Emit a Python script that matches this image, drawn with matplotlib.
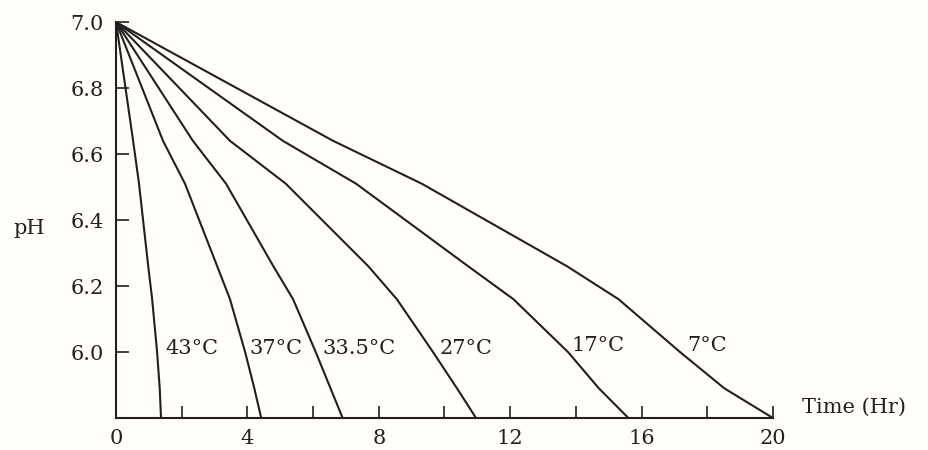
import matplotlib
matplotlib.use("Agg")
import matplotlib.pyplot as plt

# pH levels at which the curves were read (shared by all curves)
ph_levels = [7.0, 6.64, 6.51, 6.26, 6.16, 6.0, 5.89, 5.8]

# time (hr) needed to reach each pH level, one list per temperature
curves = {
    "43°C": [0, 0.52, 0.70, 0.98, 1.10, 1.25, 1.33, 1.37],
    "37°C": [0, 1.43, 2.10, 3.08, 3.47, 3.93, 4.21, 4.42],
    "33.5°C": [0, 2.34, 3.35, 4.79, 5.39, 6.08, 6.53, 6.90],
    "27°C": [0, 3.47, 5.17, 7.68, 8.55, 9.65, 10.38, 10.96],
    "17°C": [0, 5.08, 7.31, 10.72, 12.10, 13.76, 14.70, 15.60],
    "7°C": [0, 6.61, 9.31, 13.73, 15.30, 17.17, 18.52, 20.0],
}

# where each curve label sits (time, pH)
label_pos = {
    "43°C": (1.49, 6.012),
    "37°C": (4.05, 6.012),
    "33.5°C": (6.27, 6.012),
    "27°C": (9.86, 6.012),
    "17°C": (13.88, 6.02),
    "7°C": (17.38, 6.02),
}

x_ticks = [2, 4, 6, 8, 10, 12, 14, 16, 18, 20]
x_labels = [0, 4, 8, 12, 16, 20]
y_ticks = [6.0, 6.2, 6.4, 6.6, 6.8, 7.0]

ink = "#231f20"
paper = "#fffef8"
plt.rcParams["font.family"] = ["DejaVu Serif"]

fig = plt.figure(figsize=(9.29, 4.5), dpi=100, facecolor=paper)
ax = fig.add_axes([0.1249, 0.0711, 0.832 - 0.1249, 0.951 - 0.0711])
ax.set_facecolor(paper)

for name, times in curves.items():
    ax.plot(times, ph_levels, color=ink, linewidth=1.5,
            solid_joinstyle="round", solid_capstyle="round", clip_on=False)
    lx, ly = label_pos[name]
    ax.text(lx, ly, name, fontsize=15, color=ink, ha="left", va="center")

ax.set_xlim(0, 20)
ax.set_ylim(5.8, 7.0)

for side in ["top", "right"]:
    ax.spines[side].set_visible(False)
for side in ["left", "bottom"]:
    ax.spines[side].set_color(ink)
    ax.spines[side].set_linewidth(1.5)

# x: tick marks every 2 hr, labels every 4 hr (drawn as text)
ax.set_xticks(x_ticks)
ax.set_xticklabels([])
ax.tick_params(axis="x", direction="in", length=9, width=1.2, color=ink)
for v in x_labels:
    ax.annotate(str(v), xy=(v, 5.8), xytext=(0, -18.5), textcoords="offset points",
                ha="center", va="baseline", fontsize=15, color=ink, annotation_clip=False)

ax.set_yticks(y_ticks)
ax.set_yticklabels([f"{v:.1f}" for v in y_ticks])
ax.tick_params(axis="y", direction="in", length=9, width=1.2, color=ink,
               labelsize=15, labelcolor=ink, pad=9)

fig.text(29 / 929, 1 - 228 / 450, "pH", fontsize=15, color=ink, ha="center", va="center")
fig.text(802 / 929, 1 - 407 / 450, "Time (Hr)", fontsize=15, color=ink, ha="left", va="center")

fig.savefig("out.png", dpi=100, facecolor=paper)
